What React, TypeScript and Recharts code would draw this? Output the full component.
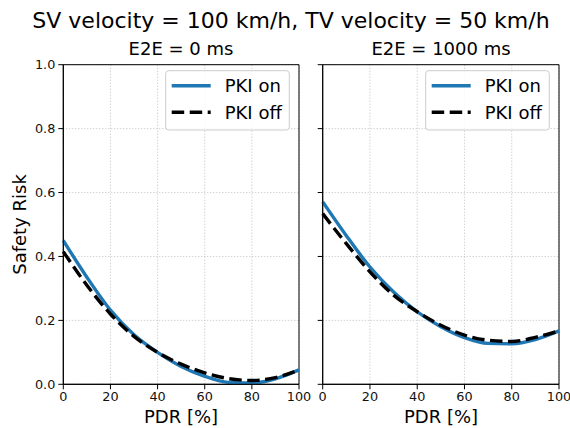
import React from 'react';
import { LineChart, Line, XAxis, YAxis, CartesianGrid, ReferenceArea } from 'recharts';

const pdr = [0, 10, 20, 30, 40, 50, 60, 70, 80, 90, 100];
const e2e0On = [0.45, 0.335, 0.232, 0.155, 0.1, 0.056, 0.025, 0.006, 0.004, 0.017, 0.045];
const e2e0Off = [0.415, 0.31, 0.22, 0.15, 0.1, 0.063, 0.036, 0.018, 0.012, 0.021, 0.045];
const e2e1000On = [0.571, 0.465, 0.367, 0.289, 0.227, 0.18, 0.146, 0.128, 0.127, 0.14, 0.167];
const e2e1000Off = [0.534, 0.44, 0.352, 0.279, 0.227, 0.185, 0.154, 0.138, 0.134, 0.147, 0.167];
const xTicks = [0, 20, 40, 60, 80, 100];
const yTicks = [0, 0.2, 0.4, 0.6, 0.8, 1.0];
const seriesNames = ['PKI on', 'PKI off'];
const mainTitle = 'SV velocity = 100 km/h, TV velocity = 50 km/h';
const panelTitles = ['E2E = 0 ms', 'E2E = 1000 ms'];

const leftData = pdr.map((x, i) => ({ x, on: e2e0On[i], off: e2e0Off[i] }));
const rightData = pdr.map((x, i) => ({ x, on: e2e1000On[i], off: e2e1000Off[i] }));

const FONT = '"DejaVu Sans", sans-serif';
const BLUE = '#1f77b4';
const LW = 3.4;
const DASH = '12.5 5.5';

function Panel({ data, showYLabels, width, margin, yWidth }: any) {
  return (
    <LineChart width={width} height={428} data={data} margin={margin}>
      <CartesianGrid stroke="#b0b0b0" strokeDasharray="1 2" strokeWidth={0.8} />
      <XAxis
        dataKey="x"
        type="number"
        domain={[0, 100]}
        ticks={xTicks}
        tickSize={5}
        tickMargin={3}
        height={30}
        axisLine={{ stroke: '#000', strokeWidth: 1 }}
        tickLine={{ stroke: '#000', strokeWidth: 1 }}
        tick={{ fill: '#111', fontSize: 12.8 }}
        interval={0}
      />
      <YAxis
        type="number"
        domain={[0, 1]}
        ticks={yTicks}
        tickSize={5}
        tickMargin={3}
        width={yWidth}
        axisLine={{ stroke: '#000', strokeWidth: 1 }}
        tickLine={{ stroke: '#000', strokeWidth: 1 }}
        tick={{ fill: '#111', fontSize: 12.8 }}
        tickFormatter={(v: number) => (showYLabels ? v.toFixed(1) : '')}
        interval={0}
      />
      <Line
        dataKey="on"
        type="monotone"
        stroke={BLUE}
        strokeWidth={LW}
        dot={false}
        isAnimationActive={false}
      />
      <Line
        dataKey="off"
        type="monotone"
        stroke="#000"
        strokeWidth={LW}
        strokeDasharray={DASH}
        dot={false}
        isAnimationActive={false}
      />
      <ReferenceArea x1={0} x2={100} y1={0} y2={1} fill="none" stroke="#000" strokeWidth={1} />
    </LineChart>
  );
}

function Legend({ x }: { x: number }) {
  return (
    <g>
      <rect x={x} y={70.7} width={123.6} height={59.3} rx={3} fill="#fff" fillOpacity={0.8} stroke="#cccccc" strokeWidth={1} />
      <line x1={x + 6} x2={x + 45} y1={85.7} y2={85.7} stroke={BLUE} strokeWidth={LW} />
      <line x1={x + 6} x2={x + 45} y1={112.3} y2={112.3} stroke="#000" strokeWidth={LW} strokeDasharray={DASH} />
      <text x={x + 59} y={92.2} fontSize={18} fill="#000">{seriesNames[0]}</text>
      <text x={x + 59} y={118.8} fontSize={18} fill="#000">{seriesNames[1]}</text>
    </g>
  );
}

export default function App() {
  return (
    <div style={{ position: 'absolute', left: 0, top: 0, width: 570, height: 428, background: '#fff', fontFamily: FONT, overflow: 'hidden' }}>
      <div style={{ position: 'absolute', left: 300, top: 0 }}>
        <Panel data={rightData} showYLabels={false} width={270} yWidth={10} margin={{ top: 64.7, right: 11, left: 12.7, bottom: 13.7 }} />
      </div>
      <div style={{ position: 'absolute', left: 0, top: 0 }}>
        <Panel data={leftData} showYLabels width={318} yWidth={50} margin={{ top: 64.7, right: 19, left: 13.3, bottom: 13.7 }} />
      </div>
      <svg width={570} height={428} style={{ position: 'absolute', left: 0, top: 0, pointerEvents: 'none', fontFamily: FONT }}>
        <text x={291} y={28.3} fontSize={22} textAnchor="middle" fill="#000">{mainTitle}</text>
        <text x={181} y={55} fontSize={18} textAnchor="middle" fill="#000">{panelTitles[0]}</text>
        <text x={441} y={55} fontSize={18} textAnchor="middle" fill="#000">{panelTitles[1]}</text>
        <text x={181} y={423.3} fontSize={18} textAnchor="middle" fill="#000">PDR [%]</text>
        <text x={441} y={423.3} fontSize={18} textAnchor="middle" fill="#000">PDR [%]</text>
        <text x={26} y={224.5} fontSize={18} textAnchor="middle" fill="#000" transform="rotate(-90 26 224.5)">Safety Risk</text>
        <Legend x={165.7} />
        <Legend x={425.7} />
      </svg>
    </div>
  );
}
